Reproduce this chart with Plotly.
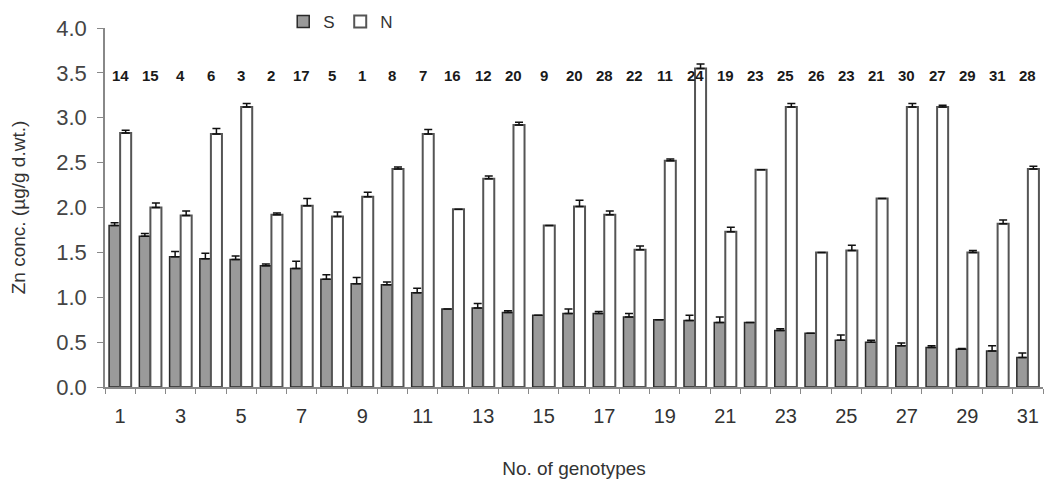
import plotly.graph_objects as go

genotypes = list(range(1, 32))
s_values = [1.80, 1.68, 1.45, 1.43, 1.42, 1.35, 1.32, 1.20, 1.15, 1.14, 1.05, 0.87, 0.88, 0.83, 0.80, 0.82,
            0.82, 0.78, 0.75, 0.74, 0.72, 0.72, 0.63, 0.60, 0.52, 0.50, 0.46, 0.44, 0.42, 0.40, 0.33]
s_errors = [0.03, 0.03, 0.06, 0.06, 0.04, 0.02, 0.08, 0.05, 0.07, 0.03, 0.05, 0.00, 0.05, 0.02, 0.00, 0.05,
            0.02, 0.04, 0.00, 0.06, 0.06, 0.00, 0.02, 0.00, 0.06, 0.02, 0.03, 0.02, 0.01, 0.06, 0.05]
n_values = [2.83, 2.00, 1.91, 2.82, 3.12, 1.92, 2.02, 1.90, 2.12, 2.43, 2.82, 1.98, 2.32, 2.92, 1.80, 2.01,
            1.92, 1.53, 2.52, 3.55, 1.73, 2.42, 3.12, 1.50, 1.52, 2.10, 3.12, 3.12, 1.50, 1.82, 2.43]
n_errors = [0.03, 0.05, 0.05, 0.06, 0.04, 0.02, 0.08, 0.05, 0.05, 0.02, 0.05, 0.00, 0.03, 0.03, 0.00, 0.07,
            0.04, 0.04, 0.02, 0.05, 0.05, 0.00, 0.04, 0.00, 0.06, 0.00, 0.04, 0.02, 0.02, 0.04, 0.03]
top_labels = ["14", "15", "4", "6", "3", "2", "17", "5", "1", "8", "7", "16", "12", "20", "9", "20",
              "28", "22", "11", "24", "19", "23", "25", "26", "23", "21", "30", "27", "29", "31", "28"]
x_tick_labels = [str(i) for i in range(1, 32, 2)]
y_ticks = [0.0, 0.5, 1.0, 1.5, 2.0, 2.5, 3.0, 3.5, 4.0]

FONT = "Liberation Sans, Arial, sans-serif"

fig = go.Figure()
fig.add_trace(go.Bar(
    name="S", x=genotypes, y=s_values,
    marker=dict(color="#9a9a9a", line=dict(color="#2a2a2a", width=1.5)),
    error_y=dict(type="data", array=s_errors, arrayminus=[0] * len(s_errors), symmetric=False,
                 color="#111111", thickness=1.5, width=4),
))
fig.add_trace(go.Bar(
    name="N", x=genotypes, y=n_values,
    marker=dict(color="#ffffff", line=dict(color="#555555", width=2)),
    error_y=dict(type="data", array=n_errors, arrayminus=[0] * len(n_errors), symmetric=False,
                 color="#111111", thickness=1.5, width=4),
))

for g, lab in zip(genotypes, top_labels):
    fig.add_annotation(x=g, y=3.47, text=lab, showarrow=False, xref="x", yref="y",
                       font=dict(family=FONT, size=15, color="#1a1a1a", weight="bold"))

fig.update_layout(
    width=1048, height=484,
    margin=dict(l=105, r=5, t=27, b=97),
    paper_bgcolor="white", plot_bgcolor="white",
    barmode="group", bargap=0.27, bargroupgap=0.0,
    font=dict(family=FONT, color="#333333"),
    legend=dict(orientation="h", x=0.19, y=1.014, xanchor="left", yanchor="middle",
                font=dict(size=17, color="#333333"), itemwidth=30,
                entrywidth=12, entrywidthmode="pixels", bgcolor="rgba(0,0,0,0)"),
    showlegend=True,
)
fig.update_xaxes(
    range=[0.5, 31.5], tickmode="array",
    tickvals=list(range(1, 32, 2)), ticktext=x_tick_labels,
    ticks="", ticklabelstandoff=10,
    tickfont=dict(size=20, color="#333333"),
    showline=True, linecolor="#888888", linewidth=1.5, showgrid=False, zeroline=False,
    minor=dict(ticks="outside", tick0=0.5, dtick=1, ticklen=5, tickcolor="#888888", showgrid=False),
    title=dict(text="No. of genotypes", font=dict(size=19, color="#333333"), standoff=36),
)
fig.update_yaxes(
    range=[0, 4.0], tickmode="array", tickvals=y_ticks, ticktext=[f"{v:.1f}" for v in y_ticks],
    ticks="outside", ticklen=6, tickcolor="#888888", ticklabelstandoff=6,
    tickfont=dict(size=22, color="#444444"),
    showline=True, linecolor="#888888", linewidth=1.5, showgrid=False, zeroline=False,
    title=dict(text="Zn conc. (µg/g d.wt.)", font=dict(size=19, color="#333333"), standoff=26),
)

fig.write_html("out.html")
